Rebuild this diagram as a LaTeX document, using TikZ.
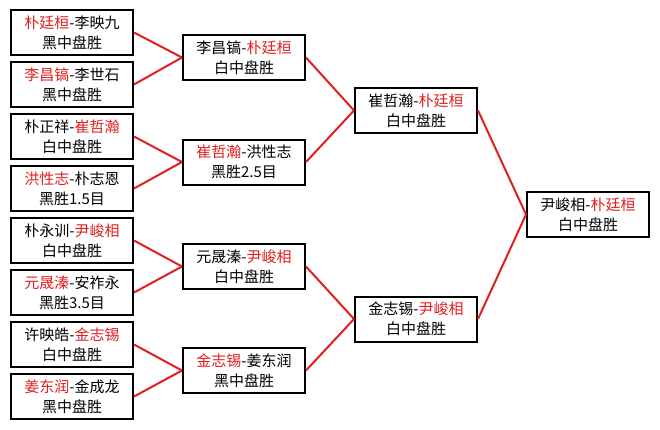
\documentclass[tikz,border=0pt]{standalone}
\usepackage{fontspec}
\newfontfamily\cjk{Noto Sans CJK SC}
\definecolor{winred}{RGB}{224,32,32}
\newcommand\win[1]{\textcolor{winred}{#1}}
\begin{document}
\begin{tikzpicture}[x=1pt,y=-1pt]
  \useasboundingbox (0,0) rectangle (660,429);
  \begin{scope}[every node/.style={draw,line width=2pt,fill=white,minimum width=122pt,minimum height=45pt,inner sep=0pt,align=center,font=\cjk\fontsize{15}{20}\selectfont}]
  \node (a) at (72,32.5) {\win{朴廷桓}-李映九\\黑中盘胜};
  \node (b) at (72,84.5) {\win{李昌镐}-李世石\\黑中盘胜};
  \node (c) at (72,136.5) {朴正祥-\win{崔哲瀚}\\白中盘胜};
  \node (d) at (72,188.5) {\win{洪性志}-朴志恩\\黑胜1.5目};
  \node (e) at (72,240.5) {朴永训-\win{尹峻相}\\白中盘胜};
  \node (f) at (72,292.5) {\win{元晟溱}-安祚永\\黑胜3.5目};
  \node (g) at (72,344.5) {许映皓-\win{金志锡}\\白中盘胜};
  \node (h) at (72,396.5) {\win{姜东润}-金成龙\\黑中盘胜};
  \node (i) at (244,57.5) {李昌镐-\win{朴廷桓}\\白中盘胜};
  \node (j) at (244,162) {\win{崔哲瀚}-洪性志\\黑胜2.5目};
  \node (k) at (244,266.5) {元晟溱-\win{尹峻相}\\白中盘胜};
  \node (l) at (244,370.5) {\win{金志锡}-姜东润\\黑中盘胜};
  \node (m) at (416,110.5) {崔哲瀚-\win{朴廷桓}\\白中盘胜};
  \node (n) at (416,319) {金志锡-\win{尹峻相}\\白中盘胜};
  \node (o) at (588,214.5) {尹峻相-\win{朴廷桓}\\白中盘胜};
  \end{scope}
  \begin{scope}[every edge/.style={draw=winred,line width=2pt}]
  \path (a.east) edge (i.west);
  \path (b.east) edge (i.west);
  \path (c.east) edge (j.west);
  \path (d.east) edge (j.west);
  \path (e.east) edge (k.west);
  \path (f.east) edge (k.west);
  \path (g.east) edge (l.west);
  \path (h.east) edge (l.west);
  \path (i.east) edge (m.west);
  \path (j.east) edge (m.west);
  \path (k.east) edge (n.west);
  \path (l.east) edge (n.west);
  \path (m.east) edge (o.west);
  \path (n.east) edge (o.west);
  \end{scope}
\end{tikzpicture}
\end{document}
